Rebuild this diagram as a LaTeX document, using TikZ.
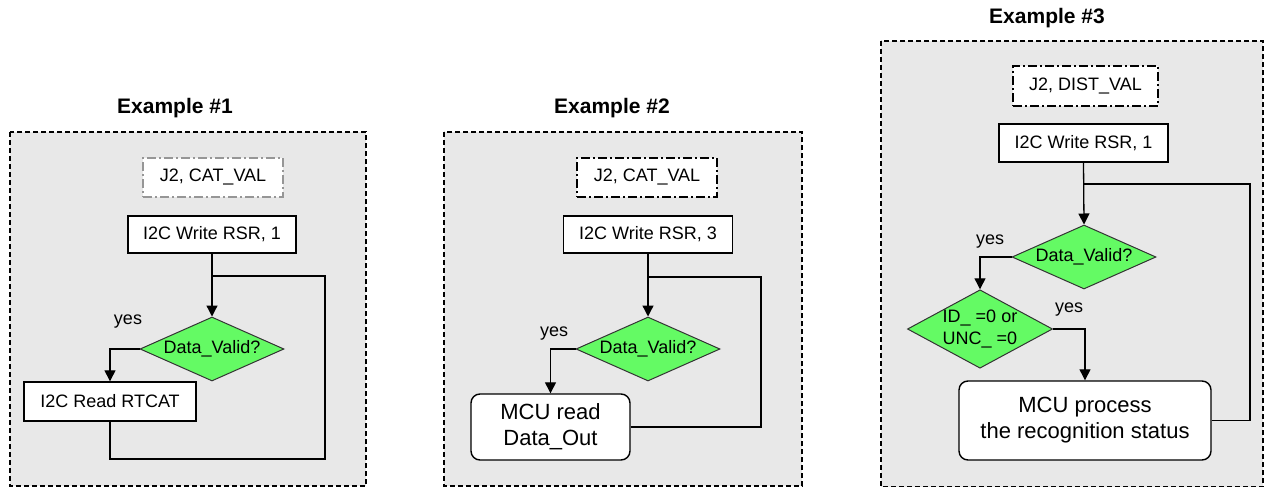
\documentclass[tikz,border=0pt]{standalone}
\usepackage{fontspec}
\setmainfont{Liberation Sans}
\usetikzlibrary{shapes.geometric,arrows.meta}
\definecolor{panelgray}{RGB}{232,232,232}
\definecolor{validgreen}{RGB}{100,250,100}
\definecolor{tagline}{RGB}{150,150,150}

\tikzset{
  panel/.style={draw=black, fill=panelgray, line width=1.3pt, dash pattern=on 5pt off 3pt},
  title/.style={font=\fontsize{21}{25}\selectfont\bfseries},
  tagbox/.style={draw=black, fill=white, line width=1.2pt, dash pattern=on 9pt off 3pt on 2pt off 3pt,
    font=\fontsize{18}{22}\selectfont},
  opbox/.style={draw=black, fill=white, line width=1.4pt, font=\fontsize{18}{22}\selectfont},
  mcubox/.style={draw=black, fill=white, line width=1.4pt, rounded corners=9pt, align=center,
    font=\fontsize{22}{26}\selectfont},
  check/.style={draw=black!80, fill=validgreen, shape=diamond, inner sep=0pt, line width=1pt,
    align=center, font=\fontsize{18}{22}\selectfont},
  flow/.style={line width=1.3pt, -{Triangle[width=11pt,length=11pt]}},
  back/.style={line width=1.3pt},
  yeslbl/.style={font=\fontsize{18}{22}\selectfont}
}

\begin{document}
\begin{tikzpicture}[x=1pt,y=-1pt]
  \useasboundingbox (0,0) rectangle (1266,487);

  %Example #1
  \draw[panel] (10,132) rectangle (366,486);
  \node[title] (t1) at (175,108) {Example \#1};
  \node[tagbox, draw=tagline, minimum width=140pt, minimum height=39pt] (j1) at (213,177.5) {J2, CAT\_VAL};
  \node[opbox, minimum width=168pt, minimum height=37pt] (w1) at (212,234.5) {I2C Write RSR, 1};
  \node[check, aspect=2.5, minimum width=144pt, minimum height=64pt] (d1) at (212,349) {Data\_Valid?};
  \node[opbox, minimum width=172pt, minimum height=39pt] (r1) at (110,401.5) {I2C Read RTCAT};
  \coordinate (k1) at (212,276);
  \coordinate (c1) at (325,459);
  \draw[flow] (w1.south) -- (d1.north);
  \draw[flow] (d1.west) -| (r1.north);
  \draw[back] (r1.south) |- (c1) |- (k1);
  \node[yeslbl] (y1) at (128,322) {yes};

  %Example #2
  \draw[panel] (444,132) rectangle (802,486);
  \node[title] (t2) at (612,108) {Example \#2};
  \node[tagbox, minimum width=140pt, minimum height=39pt] (j2) at (647,177.5) {J2, CAT\_VAL};
  \node[opbox, minimum width=169pt, minimum height=37pt] (w2) at (648,234.5) {I2C Write RSR, 3};
  \node[check, aspect=2.5, minimum width=144pt, minimum height=64pt] (d2) at (648,349) {Data\_Valid?};
  \node[mcubox, minimum width=159pt, minimum height=66pt] (m2) at (550.5,427) {MCU read\\Data\_Out};
  \coordinate (k2) at (648,277);
  \coordinate (c2) at (761,277);
  \draw[flow] (w2.south) -- (d2.north);
  \draw[flow] (d2.west) -| (m2.north);
  \draw[back] (m2.east) -| (c2) -- (k2);
  \node[yeslbl] (y2) at (554,334) {yes};

  %Example #3
  \draw[panel] (881,41) rectangle (1263,487);
  \node[title] (t3) at (1047,18) {Example \#3};
  \node[tagbox, minimum width=145pt, minimum height=40pt] (j3) at (1085.5,86) {J2, DIST\_VAL};
  \node[opbox, minimum width=169pt, minimum height=38pt] (w3) at (1083.5,143) {I2C Write RSR, 1};
  \node[check, aspect=2.5, minimum width=144pt, minimum height=64pt] (d3) at (1084,257) {Data\_Valid?};
  \node[check, aspect=1.85, minimum width=145pt, minimum height=78pt] (d4) at (980,329) {ID\_ =0 or\\UNC\_ =0};
  \node[mcubox, minimum width=252pt, minimum height=79pt] (m3) at (1085,420.5) {MCU process\\the recognition status};
  \coordinate (k3) at (1084,184);
  \coordinate (c3) at (1250,184);
  \draw[flow] (w3.south) -- (d3.north);
  \draw[flow] (d3.west) -| (d4.north);
  \draw[flow] (d4.east) -| (m3.north);
  \draw[back] (m3.east) -| (c3) -- (k3);
  \node[yeslbl] (y3) at (990,242) {yes};
  \node[yeslbl] (y4) at (1069,310) {yes};
\end{tikzpicture}
\end{document}
